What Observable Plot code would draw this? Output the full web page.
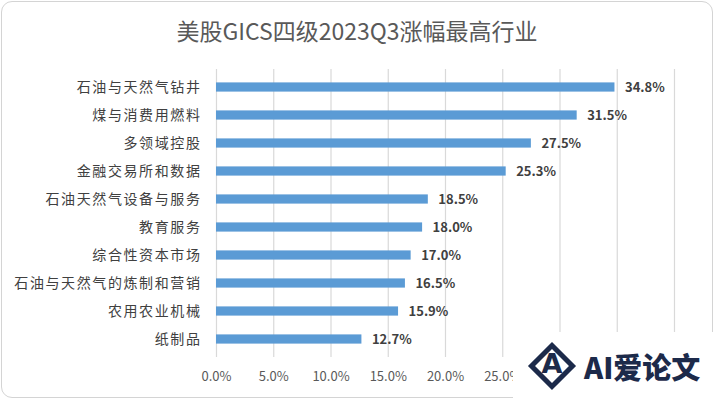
<!DOCTYPE html>
<html>
<head>
<meta charset="utf-8">
<script src="https://cdn.jsdelivr.net/npm/d3@7"></script>
<script src="https://cdn.jsdelivr.net/npm/@observablehq/plot@0.6"></script>
<style>
  html, body { margin: 0; padding: 0; background: #fff; }
  #wrap { position: relative; width: 714px; height: 399px; overflow: hidden; font-family: "Noto Sans CJK SC", "Noto Sans", sans-serif; }
  #frame { position: absolute; left: 1px; top: 1px; width: 710px; height: 395px; border: 1.5px solid #d4d4d4; border-radius: 11px; pointer-events: none; }
  #title { position: absolute; left: 0; top: 13px; width: 714px; text-align: center; font-size: 23px; color: #595959; font-weight: 400; }
  #chart svg g[aria-label="y-axis tick label"] text { letter-spacing: 1.6px; }
  #wm { position: absolute; left: 513px; top: 332px; width: 210px; height: 80px; background: #fff; }
  #diamond { position: absolute; left: 535px; top: 349px; width: 34px; height: 34px; border: 5px solid #1c2a4a; transform: rotate(45deg); box-sizing: border-box; }
  #diaA { position: absolute; left: 536px; top: 348px; width: 32px; text-align: center; font: 900 27px "DejaVu Sans", sans-serif; color: #1c2a4a; }
  #wmtext { position: absolute; left: 584px; top: 345px; font-size: 29px; font-weight: 900; color: #1c2a4a; letter-spacing: 0px; font-family: "Noto Sans CJK SC", sans-serif; }
</style>
</head>
<body>
<div id="wrap">
  <div id="chart"></div>
  <div id="title">美股GICS四级2023Q3涨幅最高行业</div>
  <div id="frame"></div>
  <div id="wm"></div>
  <div id="diamond"></div>
  <div id="diaA">A</div>
  <div id="wmtext">AI爱论文</div>
</div>
<script>
const categories = ["石油与天然气钻井", "煤与消费用燃料", "多领域控股", "金融交易所和数据", "石油天然气设备与服务", "教育服务", "综合性资本市场", "石油与天然气的炼制和营销", "农用农业机械", "纸制品"];
const values = [34.8, 31.5, 27.5, 25.3, 18.5, 18.0, 17.0, 16.5, 15.9, 12.7];
const xTicks = [0, 5, 10, 15, 20, 25, 30, 35, 40];

const data = categories.map((c, i) => ({category: c, value: values[i]}));
const fmt = d => d.toFixed(1) + "%";

const chart = Plot.plot({
  width: 714,
  height: 399,
  marginLeft: 216,
  marginRight: 40,
  marginTop: 69,
  marginBottom: 42,
  style: {fontFamily: '"Noto Sans CJK SC", "Noto Sans", sans-serif', background: "transparent"},
  x: {domain: [0, 40], ticks: xTicks, tickFormat: fmt},
  y: {domain: categories, padding: 0},
  marks: [
    Plot.gridX(xTicks, {stroke: "#d9d9d9", strokeOpacity: 1, strokeWidth: 1.2}),
    Plot.barX(data, {x: "value", y: "category", fill: "#5b9bd5", insetTop: 9.4, insetBottom: 9.4}),
    Plot.text(data, {x: "value", y: "category", text: d => fmt(d.value), textAnchor: "start", dx: 10, fontSize: 13, fontWeight: "bold", fill: "#404040"}),
    Plot.axisX({ticks: xTicks, tickFormat: fmt, tickSize: 0, tickPadding: 14, fontSize: 13, color: "#595959", label: null}),
    Plot.axisY({tickSize: 0, tickPadding: 15, fontSize: 14, color: "#404040", label: null})
  ]
});
document.getElementById("chart").appendChild(chart);
</script>
</body>
</html>
